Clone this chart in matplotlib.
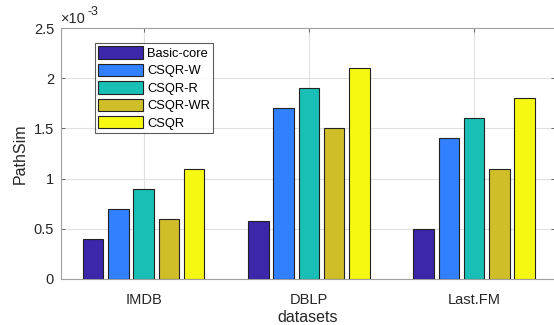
import matplotlib
matplotlib.use("Agg")
import matplotlib.pyplot as plt
import numpy as np

categories = ["IMDB", "DBLP", "Last.FM"]
series_names = ["Basic-core", "CSQR-W", "CSQR-R", "CSQR-WR", "CSQR"]
basic_core = [0.40e-3, 0.58e-3, 0.50e-3]
csqr_w = [0.70e-3, 1.70e-3, 1.40e-3]
csqr_r = [0.90e-3, 1.90e-3, 1.60e-3]
csqr_wr = [0.60e-3, 1.50e-3, 1.10e-3]
csqr = [1.10e-3, 2.10e-3, 1.80e-3]
yticks = [0, 0.5e-3, 1e-3, 1.5e-3, 2e-3, 2.5e-3]
ytick_labels = ["0", "0.5", "1", "1.5", "2", "2.5"]

colors = ["#3C26A9", "#3380FF", "#18BFB4", "#D0BE29", "#F7F811"]

plt.rcParams['font.family'] = ['Liberation Sans', 'DejaVu Sans']

fig = plt.figure(figsize=(5.54, 3.25), dpi=100)
W, H = 554, 325
ax = fig.add_axes([61/W, 1 - 279/H, 494/W, 251/H])

data = [basic_core, csqr_w, csqr_r, csqr_wr, csqr]
x = np.arange(1, len(categories) + 1)
step = 0.153
width = 0.124
for i, (vals, name, c) in enumerate(zip(data, series_names, colors)):
    ax.bar(x + (i - 2) * step, vals, width=width, color=c, edgecolor="#222222",
           linewidth=0.8, label=name, zorder=3)

ax.set_xlim(0.5, 3.49)
ax.set_ylim(0, 2.5e-3)
ax.set_xticks(x)
ax.set_xticklabels(categories, fontsize=10.5, color="#262626")
ax.set_yticks(yticks)
ax.set_yticklabels(ytick_labels, fontsize=10.5, color="#262626")
ax.tick_params(axis="x", pad=10)
ax.tick_params(axis="y", pad=5)

# MATLAB-style exponent label
ax.text(0/494, 1 + 5/251, "\u00d710", transform=ax.transAxes, fontsize=10.5,
        color="#262626", ha="left", va="baseline")
ax.text(26/494, 1 + 13/251, "-3", transform=ax.transAxes, fontsize=9,
        color="#262626", ha="left", va="baseline")

ax.grid(True, color="#E0E0E0", linewidth=0.8, zorder=0)
ax.tick_params(direction="in", top=True, right=True, length=3, color="#555555",
               width=0.6, labelcolor="#262626")
for s in ax.spines.values():
    s.set_color("#A0A0A0")
    s.set_linewidth(0.8)

ax.set_xlabel("datasets", fontsize=11.5, color="#262626", va="center")
ax.xaxis.set_label_coords(0.5, -38/251)
ax.set_ylabel("PathSim", fontsize=11.5, color="#262626", va="center")
ax.yaxis.set_label_coords(-41/494, 0.5)

leg = ax.legend(loc="upper left", bbox_to_anchor=(34/494, 1 - 15/251), fontsize=9.3,
                frameon=True, fancybox=False, edgecolor="#333333",
                handlelength=3.5, handleheight=1.1, handletextpad=0.3,
                labelspacing=0.3, borderpad=0.25, borderaxespad=0)
leg.get_frame().set_linewidth(0.8)

fig.savefig("out.png", dpi=100)
